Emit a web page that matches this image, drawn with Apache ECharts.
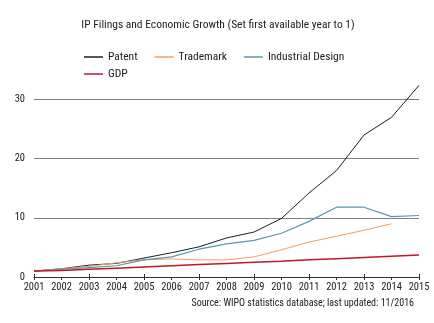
<!DOCTYPE html>
<html>
<head>
<meta charset="utf-8">
<script src="https://cdn.jsdelivr.net/npm/echarts@6/dist/echarts.min.js"></script>
<style>
  html, body { margin: 0; padding: 0; background: #fff; }
  #chart { width: 434px; height: 323px; }
</style>
</head>
<body>
<div id="chart"></div>
<script>
// Index of IP filings and GDP, first available year = 1
const years = ['2001','2002','2003','2004','2005','2006','2007','2008','2009','2010','2011','2012','2013','2014','2015'];
const patent = [1.0, 1.4, 2.0, 2.3, 3.2, 4.1, 5.1, 6.6, 7.6, 9.9, 14.2, 18.0, 24.0, 27.0, 32.4];
const trademark = [1.0, 1.4, 1.8, 2.4, 2.9, 3.05, 2.9, 2.9, 3.4, 4.6, 5.9, 6.9, 7.9, 9.0, null];
const industrialDesign = [1.0, 1.3, 1.6, 1.9, 2.9, 3.4, 4.7, 5.6, 6.2, 7.4, 9.4, 11.8, 11.8, 10.2, 10.4];
const gdp = [1.0, 1.1, 1.3, 1.5, 1.7, 1.9, 2.1, 2.3, 2.5, 2.65, 2.9, 3.1, 3.3, 3.5, 3.7];
const yTicks = [0, 10, 20, 30];

const FONT = '"Roboto Condensed", "Liberation Sans", sans-serif';
const TEXT = '#222';

const chart = echarts.init(document.getElementById('chart'), null, { renderer: 'canvas' });

const lineSeries = (name, data, color, width) => ({
  name, type: 'line', data,
  showSymbol: false, symbol: 'none',
  lineStyle: { color, width },
  itemStyle: { color },
  animation: false,
  xAxisIndex: 0
});

const legendBase = {
  icon: 'rect', itemWidth: 19, itemHeight: 1.5, itemGap: 17,
  textStyle: { fontFamily: FONT, fontSize: 11.5, color: TEXT },
  selectedMode: false
};

chart.setOption({
  backgroundColor: '#fff',
  textStyle: { fontFamily: FONT },
  title: [{
    text: 'IP Filings and Economic Growth (Set first available year to 1)',
    left: 213, textAlign: 'center', top: 14,
    textStyle: { fontFamily: FONT, fontSize: 11.5, fontWeight: 'normal', color: TEXT }
  }, {
    text: 'Source: WIPO statistics database; last updated: 11/2016',
    right: 15, top: 293,
    textStyle: { fontFamily: FONT, fontSize: 10, fontWeight: 'normal', color: TEXT }
  }],
  legend: [
    Object.assign({ data: ['Patent', 'Trademark', 'Industrial Design'], left: 79, top: 46 }, legendBase),
    Object.assign({ data: ['GDP'], left: 79, top: 63 }, legendBase)
  ],
  grid: { left: 34, right: 15, top: 70, bottom: 46, containLabel: false },
  xAxis: [{
    type: 'category', data: years, boundaryGap: false,
    axisLine: { lineStyle: { color: '#333', width: 1 } },
    axisTick: { show: true, inside: false, length: 3, lineStyle: { color: '#333' } },
    axisLabel: { fontFamily: FONT, fontSize: 10.5, color: TEXT, margin: 5, interval: 0 },
    splitLine: { show: false }
  }, {
    type: 'category', data: years, boundaryGap: false, position: 'bottom',
    axisLine: { show: false },
    axisTick: { show: true, inside: true, length: 3, lineStyle: { color: '#333' } },
    axisLabel: { show: false },
    splitLine: { show: false }
  }],
  yAxis: {
    type: 'value', min: yTicks[0], max: 35, interval: yTicks[1] - yTicks[0],
    axisLine: { show: false }, axisTick: { show: false },
    axisLabel: {
      fontFamily: FONT, fontSize: 10.5, color: TEXT, margin: 9,
      showMaxLabel: false, showMinLabel: true,
      formatter: v => (yTicks.indexOf(v) >= 0 ? String(v) : '')
    },
    splitLine: { show: true, showMaxLine: false, lineStyle: { color: '#7f7f7f', width: 1 } }
  },
  series: [
    lineSeries('Patent', patent, '#14202c', 1),
    lineSeries('Trademark', trademark, '#f0a062', 1),
    lineSeries('Industrial Design', industrialDesign, '#5b98a6', 1.2),
    lineSeries('GDP', gdp, '#c0182a', 1.5)
  ]
});
</script>
</body>
</html>
